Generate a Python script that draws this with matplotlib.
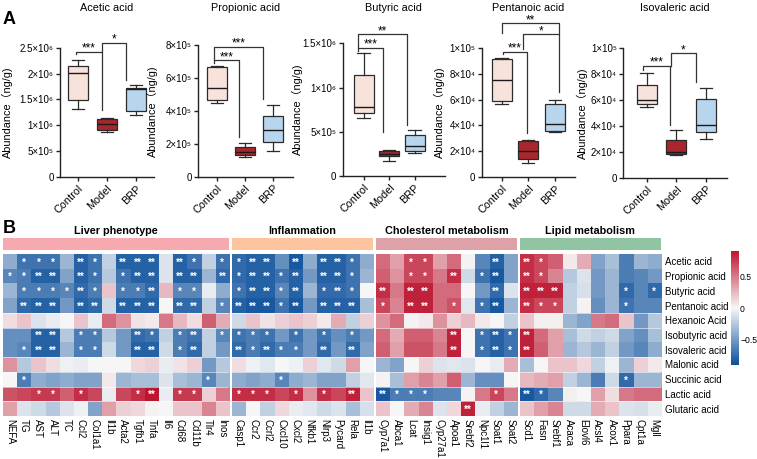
import numpy as np
import matplotlib
matplotlib.use('Agg')
import matplotlib.pyplot as plt
from matplotlib.colors import LinearSegmentedColormap

plt.rcParams['font.family'] = ['Liberation Sans', 'Noto Sans CJK SC', 'DejaVu Sans']

W, H = 757, 459
def px_rect(l, t, r, b):
    # pixel box (left, top, right, bottom) -> figure fraction rect
    return [l / W, 1 - b / H, (r - l) / W, (b - t) / H]

# ---------------- panel A data ----------------
groups = ['Control', 'Model', 'BRP']
acid_titles = ['Acetic acid', 'Propionic acid', 'Butyric acid', 'Pentanoic acid', 'Isovaleric acid']
# (whislo, q1, med, q3, whishi) for Control, Model, BRP
acetic = [(1.32e6, 1.49e6, 2.02e6, 2.15e6, 2.26e6),
          (0.87e6, 0.91e6, 1.02e6, 1.13e6, 1.14e6),
          (1.20e6, 1.28e6, 1.70e6, 1.72e6, 1.77e6)]
propionic = [(4.50e5, 4.66e5, 5.37e5, 6.65e5, 6.74e5),
             (1.18e5, 1.30e5, 1.52e5, 1.79e5, 2.03e5),
             (1.58e5, 2.11e5, 2.84e5, 3.67e5, 4.34e5)]
butyric = [(0.652e6, 0.709e6, 0.777e6, 1.142e6, 1.394e6),
           (0.173e6, 0.226e6, 0.249e6, 0.286e6, 0.297e6),
           (0.263e6, 0.286e6, 0.342e6, 0.463e6, 0.520e6)]
pentanoic = [(0.568e5, 0.591e5, 0.751e5, 0.910e5, 0.918e5),
             (0.108e5, 0.139e5, 0.203e5, 0.278e5, 0.288e5),
             (0.347e5, 0.360e5, 0.409e5, 0.563e5, 0.599e5)]
isovaleric = [(0.544e5, 0.567e5, 0.600e5, 0.719e5, 0.807e5),
              (0.175e5, 0.185e5, 0.196e5, 0.294e5, 0.369e5),
              (0.301e5, 0.351e5, 0.405e5, 0.611e5, 0.691e5)]
box_data = [acetic, propionic, butyric, pentanoic, isovaleric]

yticks_A = [[0, 5e5, 1e6, 1.5e6, 2e6, 2.5e6],
            [0, 2e5, 4e5, 6e5, 8e5],
            [0, 5e5, 1e6, 1.5e6],
            [0, 2e4, 4e4, 6e4, 8e4, 1e5],
            [0, 2e4, 4e4, 6e4, 8e4, 1e5]]
ytick_labels_A = [['0', '5×10⁵', '1×10⁶', '1.5×10⁶', '2×10⁶', '2.5×10⁶'],
                  ['0', '2×10⁵', '4×10⁵', '6×10⁵', '8×10⁵'],
                  ['0', '5×10⁵', '1×10⁶', '1.5×10⁶'],
                  ['0', '2×10⁴', '4×10⁴', '6×10⁴', '8×10⁴', '1×10⁵'],
                  ['0', '2×10⁴', '4×10⁴', '6×10⁴', '8×10⁴', '1×10⁵']]

# significance brackets: (x_left, x_right, y_top, y_left_end, y_right_end, label)
brackets = [
    [(-0.07, 0.83, 2.42e6, 2.37e6, 1.30e6, '***'),
     (0.84, 1.66, 2.60e6, 2.44e6, 1.88e6, '*')],
    [(-0.09, 0.80, 7.09e5, 6.89e5, 2.43e5, '***'),
     (-0.09, 1.66, 7.90e5, 7.09e5, 4.70e5, '***')],
    [(-0.21, 0.75, 1.45e6, 1.416e6, 0.494e6, '***'),
     (-0.21, 1.71, 1.605e6, 1.45e6, 0.576e6, '**')],
    [(0.04, 0.96, 0.969e5, 0.949e5, 0.34e5, '***'),
     (0.81, 2.17, 1.103e5, 0.988e5, 0.66e5, '*'),
     (0.02, 2.17, 1.188e5, 1.111e5, 1.111e5, '**')],
    [(-0.11, 0.79, 0.866e5, 0.832e5, 0.407e5, '***'),
     (0.82, 1.66, 0.961e5, 0.866e5, 0.742e5, '*')],
]

# ---------------- panel B data ----------------
row_names = ['Acetic acid', 'Propionic acid', 'Butyric acid', 'Pentanoic acid', 'Hexanoic Acid',
             'Isobutyric acid', 'Isovaleric acid', 'Malonic acid', 'Succinic acid', 'Lactic acid',
             'Glutaric acid']
group_names = ['Liver phenotype', 'Inflammation', 'Cholesterol metabolism', 'Lipid metabolism']
liver_cols = ['NEFA', 'TG', 'AST', 'ALT', 'TC', 'Ccl2', 'Col1a1', 'Il1b', 'Acta2', 'Tgfb1', 'Tnfa',
              'Il6', 'Cd68', 'Cd11b', 'Tlr4', 'Inos']
inflam_cols = ['Casp1', 'Ccr2', 'Ccrl2', 'Cxcl10', 'Cxcl2', 'Nfkb1', 'Nlrp3', 'Pycard', 'Rela', 'Il1b']
chol_cols = ['Cyp7a1', 'Abca1', 'Lcat', 'Insig1', 'Cyp27a1', 'Apoa1', 'Srebf2', 'Npc1l1', 'Soat1', 'Soat2']
lipid_cols = ['Scd1', 'Fasn', 'Srebf1', 'Acaca', 'Elovl6', 'Acsl4', 'Acox1', 'Ppara', 'Cpt1a', 'Mgll']

liver_r = [
    [-0.4, -0.7, -0.7, -0.7, -0.35, -0.8, -0.7, -0.2, -0.8, -0.8, -0.8, -0.1, -0.8, -0.7, -0.2, -0.7],
    [-0.6, -0.65, -0.8, -0.8, -0.45, -0.8, -0.7, -0.25, -0.7, -0.8, -0.8, -0.1, -0.8, -0.8, -0.35, -0.75],
    [-0.35, -0.65, -0.65, -0.65, -0.6, -0.75, -0.65, 0.2, -0.65, -0.65, -0.75, 0.25, -0.6, -0.6, -0.05, -0.4],
    [-0.45, -0.75, -0.8, -0.8, -0.5, -0.8, -0.75, -0.15, -0.8, -0.8, -0.8, 0.0, -0.75, -0.75, -0.2, -0.6],
    [0.1, 0.2, -0.1, -0.05, 0.0, 0.2, -0.05, 0.55, 0.4, 0.08, 0.05, 0.5, 0.25, 0.1, 0.6, 0.3],
    [-0.55, -0.55, -0.8, -0.8, -0.25, -0.65, -0.65, -0.25, -0.5, -0.75, -0.7, -0.2, -0.65, -0.7, -0.2, -0.6],
    [-0.55, -0.6, -0.8, -0.8, -0.35, -0.65, -0.65, -0.15, -0.5, -0.8, -0.8, -0.15, -0.65, -0.75, -0.2, -0.5],
    [0.4, -0.25, 0.2, 0.1, -0.03, -0.05, 0.0, 0.0, 0.0, 0.12, 0.15, -0.05, 0.08, 0.15, -0.5, -0.25],
    [0.0, -0.65, -0.4, -0.45, -0.4, -0.45, -0.45, 0.05, -0.35, -0.3, -0.3, -0.1, -0.3, -0.35, -0.6, -0.35],
    [0.65, 0.7, 0.75, 0.75, 0.6, 0.8, 0.7, -0.05, 0.7, 0.8, 0.9, -0.05, 0.75, 0.75, 0.15, 0.5],
    [0.35, -0.1, -0.15, -0.25, -0.1, -0.03, -0.45, 0.35, 0.15, 0.12, 0.02, 0.0, 0.2, 0.2, 0.45, 0.2]]
inflam_r = [
    [-0.75, -0.8, -0.8, -0.55, -0.85, -0.4, -0.8, -0.8, -0.7, -0.4],
    [-0.75, -0.8, -0.8, -0.7, -0.8, -0.5, -0.8, -0.8, -0.7, -0.35],
    [-0.7, -0.8, -0.8, -0.6, -0.8, -0.35, -0.75, -0.75, -0.7, 0.0],
    [-0.8, -0.85, -0.85, -0.7, -0.85, -0.5, -0.8, -0.8, -0.8, -0.3],
    [-0.15, 0.2, 0.08, 0.15, 0.2, 0.15, 0.05, 0.3, -0.2, 0.15],
    [-0.7, -0.65, -0.7, -0.5, -0.7, -0.5, -0.7, -0.55, -0.65, -0.5],
    [-0.75, -0.65, -0.75, -0.65, -0.65, -0.5, -0.75, -0.5, -0.75, -0.45],
    [0.1, -0.03, -0.08, 0.0, -0.03, 0.15, -0.08, -0.15, 0.35, 0.0],
    [-0.4, -0.45, -0.4, -0.6, -0.4, -0.35, -0.45, -0.45, -0.2, -0.08],
    [0.8, 0.8, 0.8, 0.7, 0.8, 0.4, 0.8, 0.7, 0.85, 0.2],
    [-0.35, 0.0, -0.2, 0.12, -0.05, -0.08, -0.15, -0.1, -0.3, -0.12]]
chol_r = [
    [0.55, 0.35, 0.7, 0.7, 0.35, 0.55, 0.02, -0.6, -0.8, -0.45],
    [0.6, 0.4, 0.7, 0.7, 0.5, 0.8, -0.15, -0.7, -0.85, -0.45],
    [0.8, 0.5, 0.85, 0.85, 0.55, 0.55, 0.0, -0.5, -0.75, -0.1],
    [0.7, 0.45, 0.85, 0.85, 0.55, 0.65, -0.08, -0.7, -0.85, -0.35],
    [0.4, 0.55, 0.02, 0.05, 0.4, 0.15, 0.25, 0.05, 0.0, -0.2],
    [0.55, 0.3, 0.6, 0.6, 0.45, 0.85, 0.0, -0.7, -0.8, -0.7],
    [0.6, 0.35, 0.65, 0.65, 0.5, 0.85, 0.0, -0.7, -0.8, -0.7],
    [-0.35, -0.45, 0.0, 0.15, -0.1, -0.08, -0.1, 0.0, -0.05, 0.3],
    [0.02, -0.3, 0.35, 0.45, 0.35, 0.6, -0.35, -0.55, -0.55, 0.0],
    [-0.85, -0.65, -0.65, -0.65, -0.6, -0.6, 0.02, 0.5, 0.7, 0.5],
    [0.2, 0.0, 0.3, 0.45, -0.1, 0.12, 0.85, -0.05, -0.2, -0.35]]
lipid_r = [
    [0.8, 0.7, 0.6, 0.05, 0.3, -0.45, -0.3, -0.65, -0.35, -0.4],
    [0.8, 0.7, 0.45, -0.25, -0.1, -0.5, -0.35, -0.65, -0.6, -0.5],
    [0.85, 0.85, 0.85, -0.2, -0.12, -0.5, -0.35, -0.75, -0.6, -0.75],
    [0.8, 0.7, 0.7, -0.2, 0.02, -0.55, -0.35, -0.7, -0.6, -0.6],
    [0.2, 0.03, 0.03, -0.35, -0.45, 0.5, 0.55, 0.2, -0.5, -0.25],
    [0.85, 0.55, 0.35, -0.3, -0.15, -0.2, -0.15, -0.45, -0.55, -0.3],
    [0.85, 0.6, 0.35, -0.35, -0.25, -0.35, -0.2, -0.5, -0.6, -0.4],
    [-0.3, 0.0, 0.2, 0.2, 0.12, -0.2, -0.03, -0.35, 0.15, 0.05],
    [0.25, 0.3, 0.35, -0.2, -0.35, -0.65, -0.15, -0.75, -0.35, -0.35],
    [-0.85, -0.75, -0.6, 0.03, 0.0, 0.35, 0.1, 0.5, 0.55, 0.55],
    [0.2, 0.35, 0.45, -0.15, -0.15, 0.3, 0.2, -0.1, -0.12, -0.05]]

# number of stars per cell, one string per row
liver_sig = ['0111021022202101', '1122021012202202', '0111121011201100', '0222022022202201',
             '0000000000000000', '0022011002101201', '0122011002201200', '0000000000000000',
             '0100000000000010', '0011010001201100', '0000000000000000']
inflam_sig = ['1220202210', '1221202210', '1221201210', '2221202220', '0000000000', '1110101010',
              '2121102020', '0000000000', '0001000000', '1110101020', '0000000000']
chol_sig = ['0011000020', '0011020120', '2022000020', '1022010120', '0000000000', '0000020121',
            '0000020121', '0000000000', '0000000000', '2111000010', '0000002000']
lipid_sig = ['2100000000', '2100000000', '2220000101', '2110000100', '0000000000', '2000000000',
             '2000000000', '0000000000', '0000000100', '2100000000', '0000000000']

# ---------------- figure ----------------
fig = plt.figure(figsize=(W / 100, H / 100), dpi=100)

box_colors = ['#f8e3dc', '#a8262c', '#b8d5ee']
edge = '#2b2b2b'
# left px, top px (top tick), bottom px (zero), xlim, px per group, ylabel x px
layout_A = [(60, 47.7, 177, (-0.62, 2.62), 29.0, 13),
            (198.3, 45, 176.7, (-0.66, 2.73), 28.0, 158),
            (342.7, 43.3, 176, (-0.82, 3.18), 25.5, 303),
            (481.7, 47.7, 177.3, (-0.75, 2.75), 26.6, 445),
            (623.3, 48.3, 177.7, (-0.79, 2.70), 29.6, 588)]

for k in range(5):
    left, top, bot, xl, s, ylx = layout_A[k]
    right = left + (xl[1] - xl[0]) * s
    ax = fig.add_axes(px_rect(left, top, right, bot))
    stats = [dict(whislo=a, q1=b, med=c, q3=d, whishi=e, fliers=[], label=g)
             for (a, b, c, d, e), g in zip(box_data[k], groups)]
    w = 20.0 / s
    bp = ax.bxp(stats, positions=[0, 1, 2], widths=w, capwidths=w * 0.62, patch_artist=True,
                showfliers=False,
                boxprops=dict(edgecolor=edge, linewidth=0.9),
                medianprops=dict(color='#1a1a1a', linewidth=1.0),
                whiskerprops=dict(color=edge, linewidth=0.9),
                capprops=dict(color=edge, linewidth=0.9))
    for patch, c in zip(bp['boxes'], box_colors):
        patch.set_facecolor(c)
    ax.set_xlim(*xl)
    ax.set_ylim(0, yticks_A[k][-1])
    ax.set_yticks(yticks_A[k])
    ax.set_yticklabels(ytick_labels_A[k], fontsize=7)
    ax.set_xticks([0, 1, 2])
    ax.set_xticklabels(groups, rotation=45, ha='right', rotation_mode='anchor', fontsize=7.8)
    for sp in ['top', 'right']:
        ax.spines[sp].set_visible(False)
    for sp in ['left', 'bottom']:
        ax.spines[sp].set_linewidth(1.0)
        ax.spines[sp].set_color('#222222')
    ax.tick_params(length=3, width=1.0, color='#222222', pad=1.5)
    ax.set_ylabel('Abundance（ng/g)', fontsize=7.8)
    ax.yaxis.set_label_coords(ylx / W, 1 - (top + bot) / 2 / H, transform=fig.transFigure)
    for (x1, x2, yt, y1, y2, lab) in brackets[k]:
        ax.plot([x1, x1, x2, x2], [y1, yt, yt, y2], color='#333333', lw=0.9, clip_on=False)
        ax.text((x1 + x2) / 2, yt, lab, ha='center', va='baseline', fontsize=8.5, clip_on=False)
    fig.text((left + right) / 2 / W, 1 - 8 / H, acid_titles[k], ha='center', va='center', fontsize=7.8)

fig.text(9 / W, 1 - 19 / H, 'A', fontsize=13, fontweight='bold', ha='center', va='center')
fig.text(9 / W, 1 - 229 / H, 'B', fontsize=13, fontweight='bold', ha='center', va='center')

# ---------------- heatmap ----------------
cmap = LinearSegmentedColormap.from_list('cor', ['#0b4f9c', '#f7f7f7', '#bd1530'])
blocks = [(liver_r, liver_sig, liver_cols), (inflam_r, inflam_sig, inflam_cols),
          (chol_r, chol_sig, chol_cols), (lipid_r, lipid_sig, lipid_cols)]
bar_colors = ['#f7a9b0', '#fdc49f', '#dea1a7', '#90c4a2']
cell_w, gap = 14.15, 2.4
hm_top, hm_bot = 254, 416
x0 = 3.0
for g, (vals, sig, cols) in enumerate(blocks):
    x1 = x0 + cell_w * len(cols)
    ax = fig.add_axes(px_rect(x0, hm_top, x1, hm_bot))
    im = ax.imshow(np.array(vals), cmap=cmap, vmin=-0.9, vmax=0.9, aspect='auto',
                   interpolation='nearest')
    for i, row in enumerate(sig):
        for j, ch in enumerate(row):
            if ch != '0':
                ax.text(j, i + 0.08, '*' * int(ch), ha='center', va='center', color='white',
                        fontsize=7, fontweight='bold')
    for r in [4, 5, 7, 8, 9, 10]:
        ax.axhline(r - 0.5, color='white', lw=0.5, alpha=0.8)
    ax.set_xticks(range(len(cols)))
    ax.set_xticklabels(cols, rotation=270, fontsize=7)
    if g == 3:
        ax.yaxis.tick_right()
        ax.set_yticks(range(len(row_names)))
        ax.set_yticklabels(row_names, fontsize=7)
    else:
        ax.set_yticks([])
    ax.tick_params(length=0, pad=2.5)
    for sp in ax.spines.values():
        sp.set_visible(False)
    # group annotation bar
    bax = fig.add_axes(px_rect(x0, 238, x1, 250))
    bax.set_facecolor(bar_colors[g])
    bax.set_xticks([])
    bax.set_yticks([])
    for sp in bax.spines.values():
        sp.set_visible(False)
    fig.text((x0 + x1) / 2 / W, 1 - 231 / H, group_names[g], ha='center', va='center',
             fontsize=7.8, fontweight='bold')
    x0 = x1 + gap

cax = fig.add_axes(px_rect(731, 251, 739, 365))
cb = fig.colorbar(im, cax=cax, ticks=[-0.5, 0, 0.5])
cb.outline.set_visible(False)
cb.ax.set_yticklabels(['\u22120.5', '0', '0.5'])
cax.tick_params(length=0, labelsize=6.2, pad=0.8)

fig.savefig('out.png', dpi=100)
